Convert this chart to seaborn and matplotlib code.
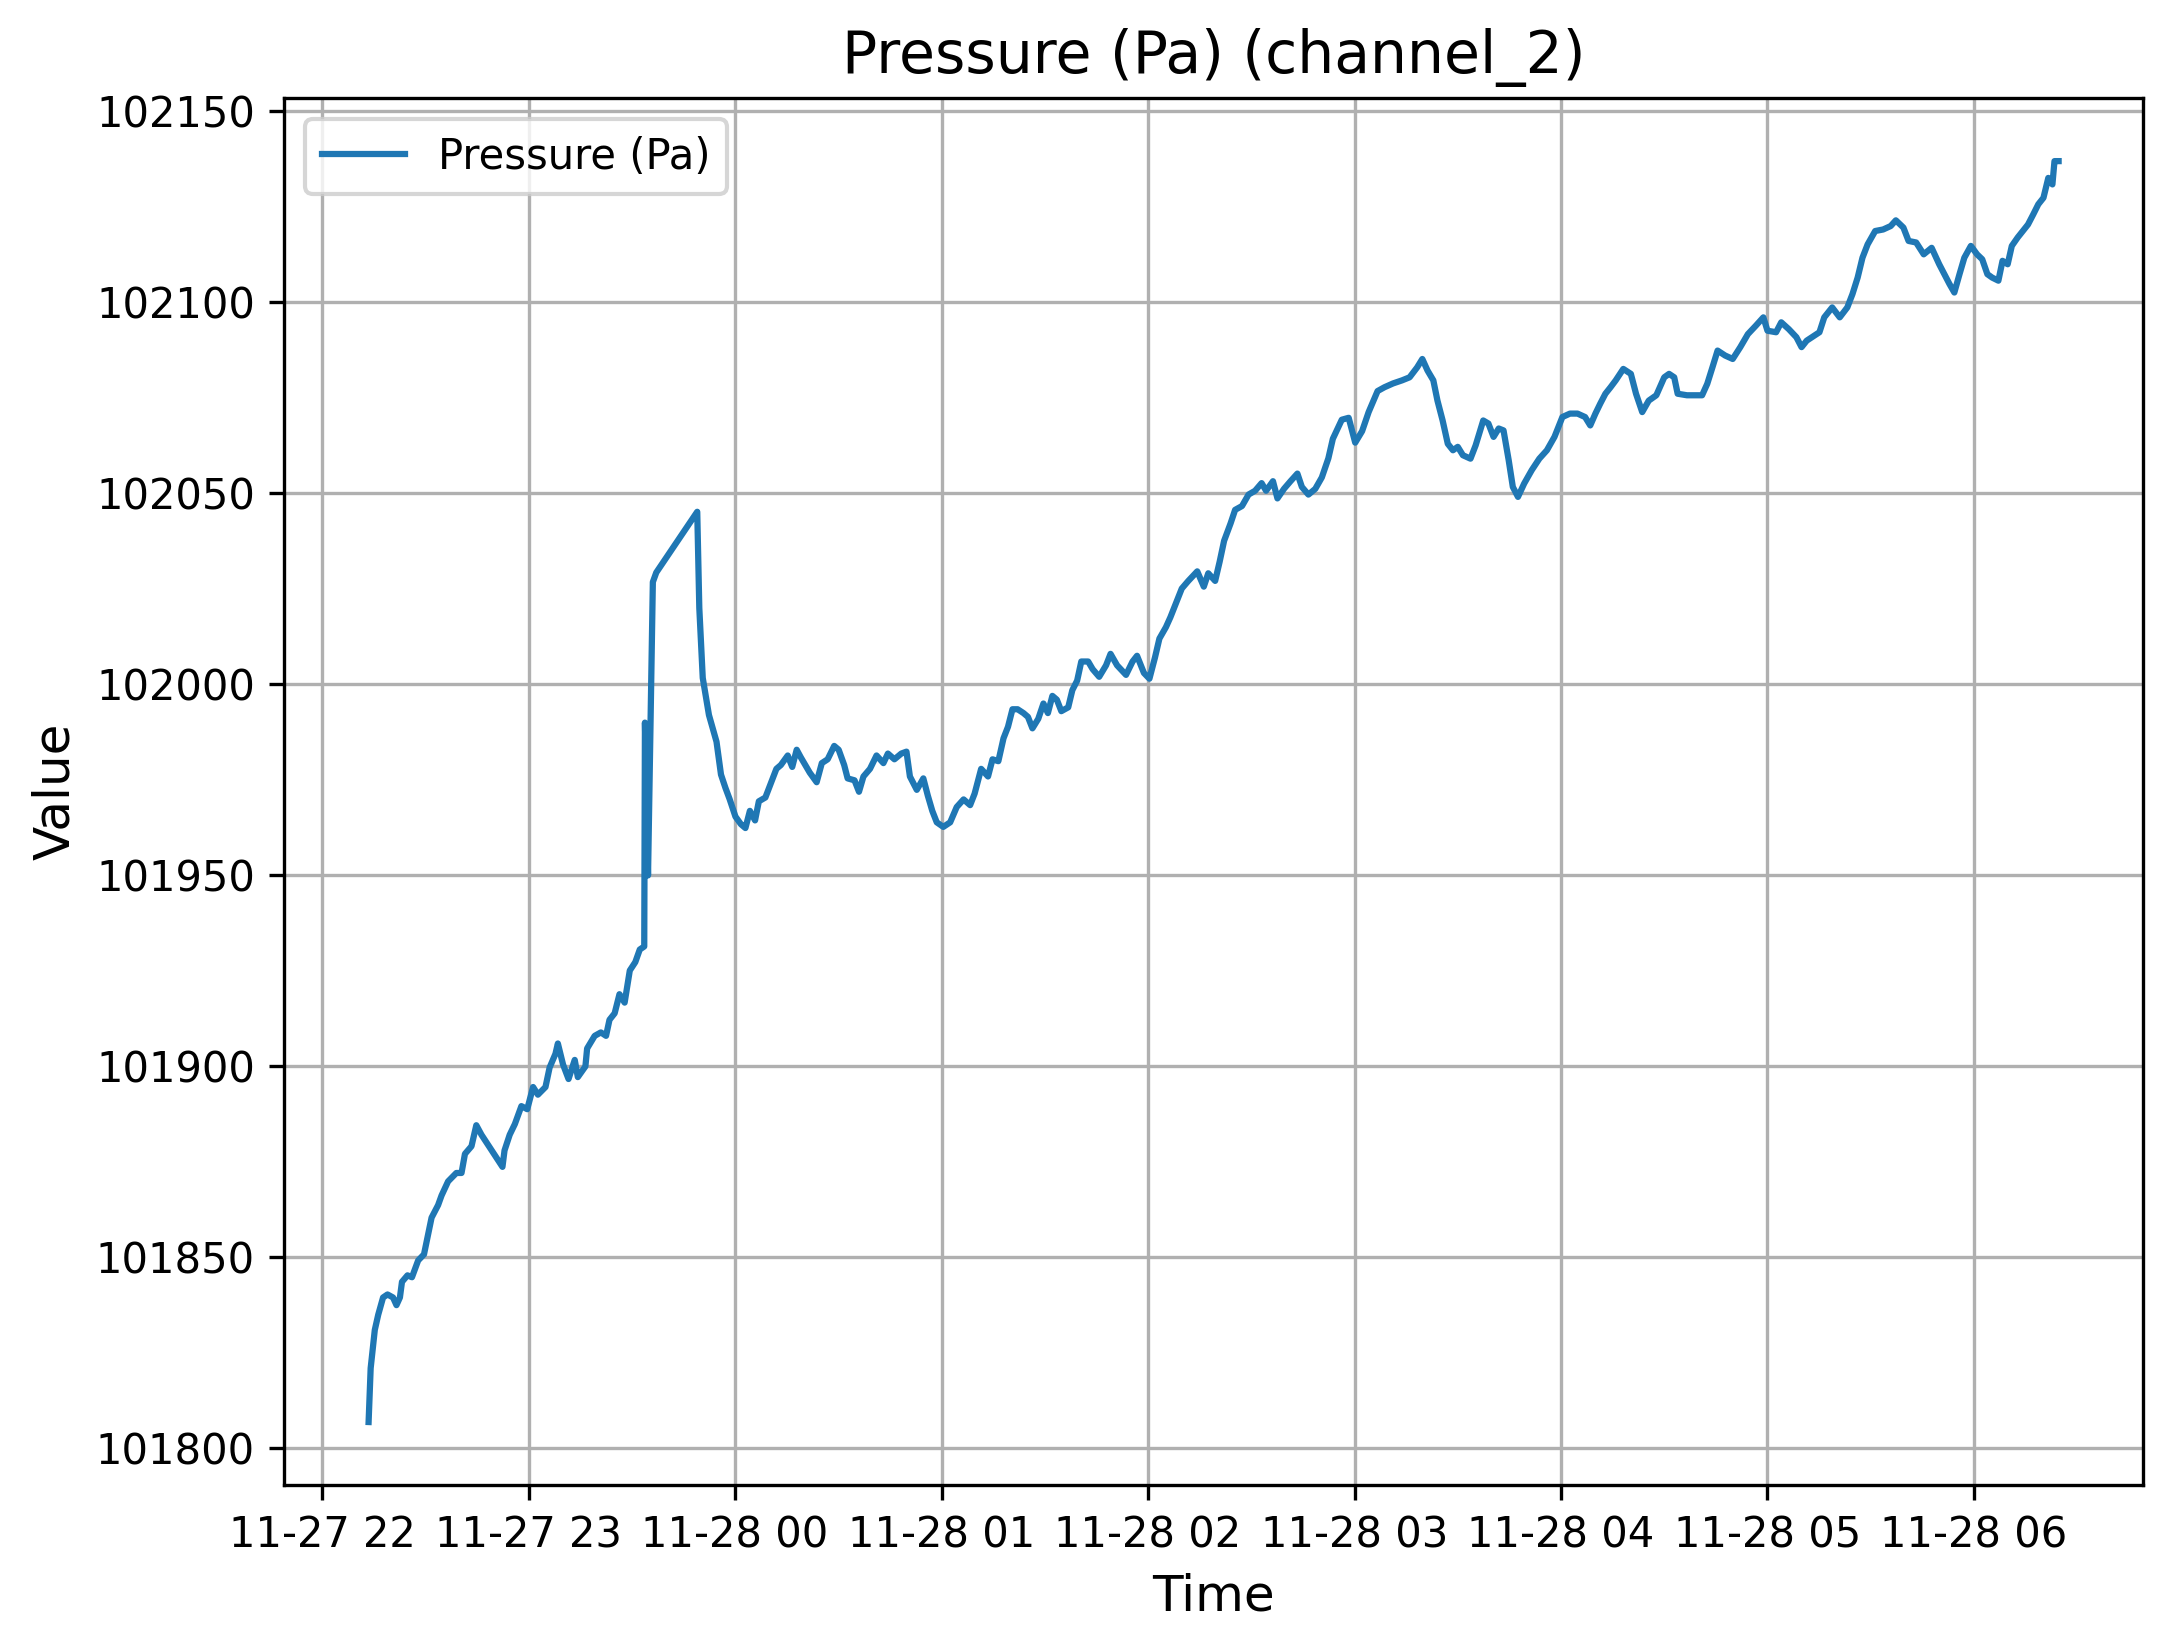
import numpy as np
import pandas as pd
import matplotlib
matplotlib.use("Agg")
import matplotlib.pyplot as plt
import matplotlib.dates as mdates
import seaborn as sns

# Minutes after 2024-11-27 22:00 and pressure readings (Pa)
START = pd.Timestamp("2024-11-27 22:00")

minutes = [
    13.5, 14.1, 15.3, 16.3, 17.7, 19.0, 20.6, 21.6, 22.6, 23.2, 24.8, 26.1, 27.9, 29.6,
    31.8, 33.7, 34.7, 36.6, 39.0, 40.5, 41.5, 43.4, 44.8, 46.3, 52.4, 53.0, 54.5, 56.0,
    57.9, 59.6, 61.3, 62.7, 64.9, 66.1, 67.8, 68.5, 70.0, 71.6, 73.4, 74.3, 76.5, 77.0,
    79.2, 81.0, 82.5, 83.5, 85.0, 86.4, 87.9, 89.4, 91.0, 92.3, 93.6, 93.8, 94.7, 96.1,
    97.1, 109.0, 109.6, 110.6, 112.4, 114.6, 115.9, 117.2, 118.4, 120.1,
    121.7, 123.0, 124.3, 125.8, 126.9, 128.8, 130.7, 132.0, 133.3, 135.3, 136.6, 137.9,
    139.1, 140.4, 141.7, 143.7, 145.2, 146.9, 148.8, 150.1, 151.7, 152.7, 154.7, 156.0,
    157.3, 159.2, 161.1, 163.1, 164.4, 166.3, 168.3, 169.8, 170.8, 172.8, 174.7, 176.0,
    177.3, 178.6, 180.5, 182.5, 184.4, 186.4, 188.3, 189.6, 191.5, 193.5, 194.8, 196.5,
    198.0, 199.3, 200.6, 202.1, 203.8, 205.1, 206.4, 208.1, 209.6, 210.9, 212.2, 213.5,
    214.8, 216.8, 218.0, 219.4, 220.6, 222.6, 223.9, 225.8, 227.8, 229.1, 231.0, 233.6,
    235.5, 236.8, 238.8, 240.4, 242.0, 243.3, 245.2, 246.5, 248.5, 249.8, 251.7, 254.3,
    256.2, 257.5, 259.5, 260.8, 262.1, 264.0, 265.3, 267.3, 269.2, 271.1, 273.0, 274.3,
    276.3, 277.6, 279.5, 281.4, 283.4, 284.7, 286.6, 288.6, 290.5, 292.4, 293.7, 295.3,
    296.3, 298.3, 300.2, 302.2, 304.1, 306.7, 308.7, 311.2,
    313.8, 316.0, 318.2, 319.7, 321.2, 322.9, 324.1, 325.6, 327.1, 328.6, 330.0, 331.5,
    333.7, 335.2, 337.4, 338.9, 340.4, 341.9, 343.3, 344.8, 346.0, 347.5, 349.3, 351.5,
    353.7, 355.9, 358.1, 360.4, 362.6, 364.8, 367.0, 368.5, 370.0, 371.4, 372.9, 374.4,
    375.9, 378.1, 380.3, 381.8, 383.6, 385.5, 387.7, 390.0, 391.4, 392.9, 393.9, 396.6,
    398.8, 401.0, 402.5, 404.0, 405.5, 407.7, 409.9, 412.1, 414.3, 416.6, 418.8, 420.0,
    422.5, 424.0, 426.2, 428.4, 429.9, 431.4, 433.6, 435.1, 436.5, 438.8, 441.0, 443.2,
    444.7, 446.2, 447.6, 449.1, 451.3, 453.6, 455.8, 457.3, 459.5, 461.0, 463.2, 465.4,
    467.7, 469.9, 471.4, 472.9, 474.3, 475.8, 477.2, 479.1, 480.9, 482.4, 483.9, 485.3,
    487.1, 488.3, 489.8, 491.0, 492.7, 494.2, 495.7, 497.2, 498.7, 500.2, 501.6, 502.8,
    503.4, 504.6,
]

pressure = [
    101806.9, 101821.0, 101831.0, 101835.0, 101839.5, 101840.3, 101839.5, 101837.5, 101839.5, 101843.6, 101845.3, 101844.8, 101849.2, 101850.8,
    101860.4, 101863.7, 101866.2, 101869.9, 101872.1, 101872.1, 101877.1, 101879.1, 101884.6, 101882.1, 101873.7, 101878.0, 101882.1, 101884.9,
    101889.6, 101888.8, 101894.6, 101892.6, 101894.6, 101899.7, 101903.3, 101906.0, 101900.5, 101896.7, 101901.7, 101897.2, 101900.0, 101904.7,
    101908.0, 101908.9, 101908.0, 101912.2, 101913.9, 101918.9, 101916.7, 101925.1, 101927.3, 101930.6, 101931.4, 101990.0, 101950.0, 102026.8,
    102029.3, 102045.2, 102020.0, 102001.7, 101992.0, 101985.0, 101976.4, 101972.9, 101970.0, 101965.4,
    101963.4, 101962.4, 101966.9, 101964.4, 101969.4, 101970.4, 101974.9, 101977.9, 101978.9, 101981.4, 101978.4, 101982.9,
    101980.9, 101978.9, 101976.9, 101974.4, 101979.4, 101980.4, 101983.9, 101982.9, 101978.9, 101975.4, 101974.9, 101971.9,
    101975.9, 101977.9, 101981.4, 101979.4, 101981.9, 101980.4, 101981.9, 101982.4, 101975.9, 101972.4, 101975.4, 101970.9,
    101966.9, 101963.9, 101962.7, 101963.9, 101967.9, 101969.9, 101968.4, 101971.4, 101977.9, 101975.9, 101980.4, 101979.9,
    101985.9, 101988.9, 101993.5, 101993.5, 101992.5, 101991.5, 101988.5, 101991.0, 101995.0, 101992.5, 101997.0, 101996.0,
    101993.0, 101994.0, 101998.5, 102001.0, 102006.0, 102006.0, 102004.0, 102002.0, 102005.0, 102008.0, 102005.0, 102002.5,
    102006.0, 102007.5, 102003.0, 102001.5, 102007.0, 102012.0, 102015.0, 102017.6, 102022.1, 102025.1, 102027.1, 102029.6,
    102025.6, 102029.1, 102027.1, 102032.1, 102037.6, 102042.2, 102045.7, 102046.7, 102049.7, 102050.7, 102052.7, 102050.7,
    102053.2, 102048.7, 102051.2, 102053.2, 102055.2, 102051.7, 102049.7, 102051.2, 102054.2, 102059.2, 102064.3, 102067.4,
    102069.3, 102069.8, 102063.3, 102066.3, 102071.3, 102076.8, 102077.8, 102078.8,
    102079.6, 102080.4, 102083.0, 102085.2, 102082.2, 102079.6, 102074.3, 102069.1, 102063.0, 102061.3, 102062.2, 102060.0,
    102059.1, 102062.6, 102069.1, 102068.3, 102064.8, 102067.0, 102066.5, 102058.7, 102051.7, 102049.1, 102052.6, 102056.1,
    102059.1, 102061.3, 102064.8, 102070.0, 102070.9, 102070.9, 102070.0, 102067.8, 102070.9, 102073.5, 102076.1, 102077.8,
    102079.6, 102082.6, 102081.3, 102076.1, 102071.3, 102074.3, 102075.7, 102080.4, 102081.3, 102080.4, 102076.1, 102075.7,
    102075.7, 102075.7, 102078.7, 102083.0, 102087.4, 102086.1, 102085.2, 102088.3, 102091.7, 102093.9, 102096.1, 102092.6,
    102092.2, 102094.8, 102093.0, 102090.9, 102088.3, 102090.0, 102091.3, 102092.2, 102096.1, 102098.7, 102096.1, 102098.7,
    102102.2, 102106.5, 102111.7, 102115.2, 102118.7, 102119.1, 102120.0, 102121.5, 102119.6, 102116.1, 102115.7, 102112.6,
    102114.3, 102110.0, 102107.4, 102104.8, 102102.6, 102107.4, 102111.7, 102114.8, 102112.6, 102111.3, 102107.4, 102106.5,
    102105.7, 102110.9, 102110.0, 102114.8, 102117.0, 102118.7, 102120.4, 102123.0, 102125.7, 102127.4, 102132.6, 102130.9,
    102137.0, 102137.0,
]

df = pd.DataFrame({
    "Time": START + pd.to_timedelta(minutes, unit="m"),
    "Pressure (Pa)": pressure,
})

fig = plt.figure(figsize=(2172 / 300, 1651 / 300), dpi=300)
ax = fig.add_axes([0.1308, 0.1005, 0.8559, 0.8401])

sns.lineplot(data=df, x="Time", y="Pressure (Pa)", ax=ax, color="#1f77b4",
             linewidth=1.5, label="Pressure (Pa)")

ax.xaxis.set_major_locator(mdates.HourLocator(interval=1))
ax.xaxis.set_major_formatter(mdates.DateFormatter("%m-%d %H"))

ax.set_title("Pressure (Pa) (channel_2)", fontsize=14)
ax.set_xlabel("Time", fontsize=12)
ax.set_ylabel("Value", fontsize=12)
ax.grid(True)
ax.legend(loc="upper left")

fig.savefig("out.png", dpi=300)
